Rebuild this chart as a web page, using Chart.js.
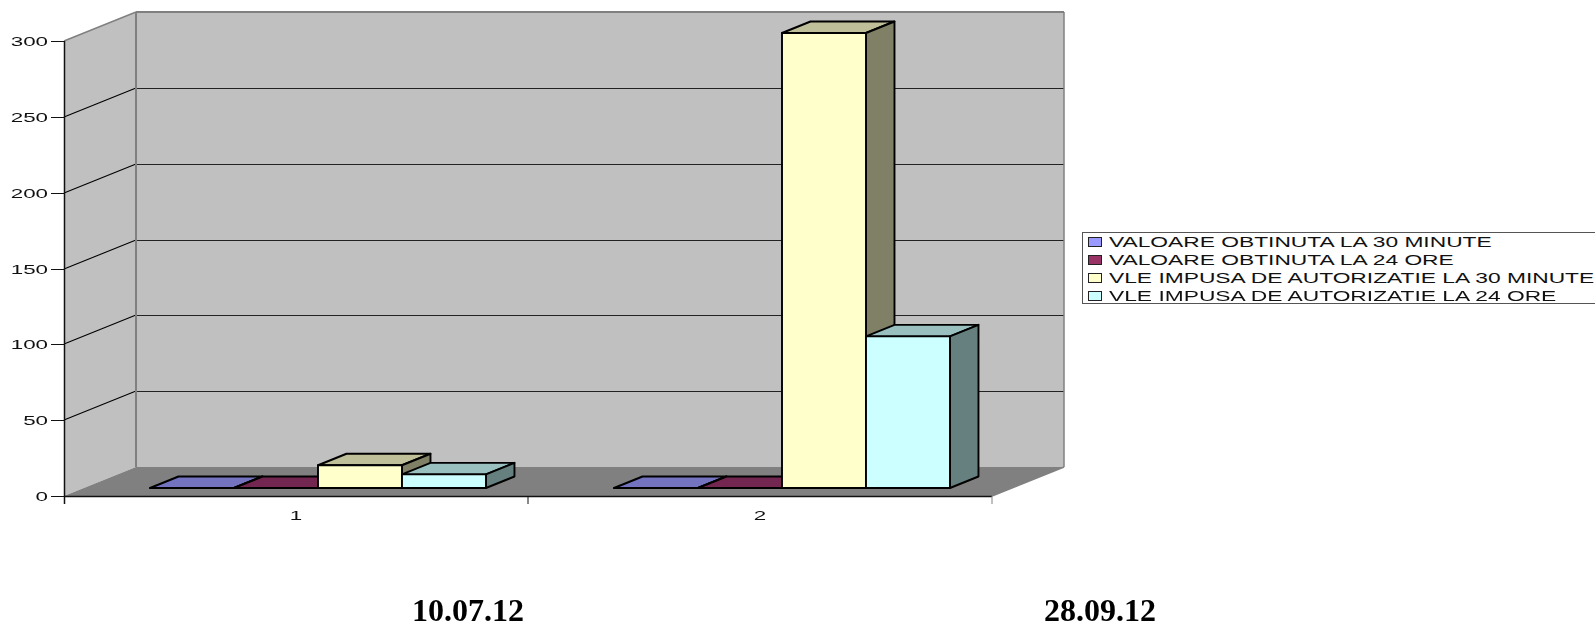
<!DOCTYPE html>
<html>
<head>
<meta charset="utf-8">
<title>VLE</title>
<style>
  html, body { margin: 0; padding: 0; background: #fff; overflow: hidden; }
  #wrap { position: relative; width: 1595px; height: 626px; overflow: hidden; }
  #chart { position: absolute; left: 0; top: 0; }
  #legend {
    position: absolute; left: 1082px; top: 232px; width: 530px; height: 72px;
    border: 1.5px solid #555; box-sizing: border-box; background: #fff;
  }
  .row { position: absolute; left: 5px; height: 18px; }
  .swatch {
    position: absolute; left: 0; top: 4px; width: 12px; height: 8px;
    border: 1.5px solid #222; box-sizing: content-box;
  }
  .row span.txt {
    position: absolute; left: 21px; top: 0; line-height: 18px; white-space: nowrap; color: #111;
    font: 14px/18px "Liberation Sans", Arial, sans-serif;
    transform: scaleX(1.627); transform-origin: left center;
  }
  .date {
    position: absolute; top: 592px; transform: translateX(-50%); white-space: nowrap; color: #000;
    font: bold 32px/36px "Liberation Serif", "Times New Roman", serif;
  }
</style>
</head>
<body>
<div id="wrap">
  <canvas id="chart" width="1595" height="626"></canvas>
  <div id="legend"></div>
</div>
<script src="https://cdn.jsdelivr.net/npm/chart.js@4/dist/chart.umd.min.js"></script>
<script>
const categories = ["1", "2"];
const dateLabels = ["10.07.12", "28.09.12"];
const yTicks = [0, 50, 100, 150, 200, 250, 300];

const obtinuta30 = [0, 0];
const obtinuta24 = [0, 0];
const vle30 = [15, 300];
const vle24 = [9, 100];

const seriesNames = [
  "VALOARE OBTINUTA LA 30 MINUTE",
  "VALOARE OBTINUTA LA 24 ORE",
  "VLE IMPUSA DE AUTORIZATIE LA 30 MINUTE",
  "VLE IMPUSA DE AUTORIZATIE LA 24 ORE"
];
const seriesValues = [obtinuta30, obtinuta24, vle30, vle24];
const frontColors = ["#9999ff", "#993366", "#ffffcc", "#ccffff"];
const topColors = ["#7373bf", "#732650", "#bfbf99", "#99bfbf"];
const sideColors = ["#4d4d80", "#4d1a33", "#808066", "#668080"];

// oblique projection offsets
const wallDx = 72, wallDy = 29;   // front edge of floor -> back wall
const barDx = 22, barDy = 8;      // front edge of floor -> bar front
const boxDx = 28.5, boxDy = 11.5; // bar front -> bar back
const tickStretch = 1.72;

function poly(ctx, pts, fill, stroke, width) {
  ctx.beginPath();
  pts.forEach((p, i) => (i ? ctx.lineTo(p[0], p[1]) : ctx.moveTo(p[0], p[1])));
  ctx.closePath();
  if (fill) { ctx.fillStyle = fill; ctx.fill(); }
  if (stroke) { ctx.strokeStyle = stroke; ctx.lineWidth = width; ctx.stroke(); }
}

function line(ctx, x1, y1, x2, y2, color, width) {
  ctx.beginPath();
  ctx.moveTo(x1, y1);
  ctx.lineTo(x2, y2);
  ctx.strokeStyle = color;
  ctx.lineWidth = width;
  ctx.stroke();
}

function stretchedText(ctx, text, x, y, align) {
  ctx.save();
  ctx.translate(x, y);
  ctx.scale(tickStretch, 1);
  ctx.font = '13px "Liberation Sans", Arial, sans-serif';
  ctx.fillStyle = "#111";
  ctx.textAlign = align;
  ctx.textBaseline = "middle";
  ctx.fillText(text, 0, 0);
  ctx.restore();
}

// walls, floor, grid and axis labels behind the bars
const walls = {
  id: "walls",
  beforeDatasetsDraw(chart) {
    const ctx = chart.ctx;
    const { left, right, top, bottom } = chart.chartArea;
    const x = chart.scales.x, y = chart.scales.y;

    poly(ctx, [[left, top], [left + wallDx, top - wallDy], [left + wallDx, bottom - wallDy], [left, bottom]], "#c0c0c0");
    poly(ctx, [[left + wallDx, top - wallDy], [right + wallDx, top - wallDy], [right + wallDx, bottom - wallDy], [left + wallDx, bottom - wallDy]], "#c0c0c0");
    poly(ctx, [[left, bottom], [left + wallDx, bottom - wallDy], [right + wallDx, bottom - wallDy], [right, bottom]], "#808080");

    yTicks.forEach(v => {
      const py = Math.round(y.getPixelForValue(v));
      if (v > 0 && v < yTicks[yTicks.length - 1]) {
        line(ctx, left, py, left + wallDx, py - wallDy, "#000", 1.1);
        line(ctx, left + wallDx, py - wallDy + 0.5, right + wallDx, py - wallDy + 0.5, "#222", 1.1);
      }
      line(ctx, left - 13, py + 0.5, left, py + 0.5, "#111", 1);
      stretchedText(ctx, String(v), left - 16, py + 1, "right");
    });

    // wall edges
    line(ctx, left, top, left + wallDx, top - wallDy, "#808080", 1.5);
    line(ctx, left + wallDx, top - wallDy, right + wallDx, top - wallDy, "#808080", 2);
    line(ctx, left + wallDx, top - wallDy, left + wallDx, bottom - wallDy, "#808080", 2);
    line(ctx, right + wallDx, top - wallDy, right + wallDx, bottom - wallDy, "#808080", 1.5);
    line(ctx, right, bottom, right + wallDx, bottom - wallDy, "#808080", 1.5);

    // axes
    line(ctx, left + 0.5, top, left + 0.5, bottom + 8, "#111", 1.5);
    line(ctx, left, bottom + 0.5, right, bottom + 0.5, "#111", 1.5);
    [left + (right - left) / 2, right].forEach(px => line(ctx, px, bottom, px, bottom + 8, px === right ? "#808080" : "#111", 1));
    categories.forEach((c, i) => stretchedText(ctx, c, x.getPixelForTick(i), bottom + 20, "center"));
  }
};

// Boxes go left to right so each one overlaps the previous. Top and side faces
// are added here, the front face is the library's bar element.
const boxes = {
  id: "boxes",
  beforeDatasetDraw() {
    return false;
  },
  afterDatasetsDraw(chart) {
    const ctx = chart.ctx;
    ctx.save();
    ctx.translate(barDx, -barDy);
    ctx.lineJoin = "round";
    seriesNames.forEach((name, i) => {
      const meta = chart.getDatasetMeta(i);
      meta.data.forEach(bar => {
        const p = bar.getProps(["x", "y", "base", "width"], true);
        const l = p.x - p.width / 2, r = p.x + p.width / 2;
        poly(ctx, [[l, p.y], [l + boxDx, p.y - boxDy], [r + boxDx, p.y - boxDy], [r, p.y]], topColors[i], "#000", 1.9);
        poly(ctx, [[r, p.y], [r + boxDx, p.y - boxDy], [r + boxDx, p.base - boxDy], [r, p.base]], sideColors[i], "#000", 1.9);
      });
      meta.controller.draw();
      meta.data.forEach(bar => {
        const p = bar.getProps(["x", "y", "base", "width"], true);
        ctx.strokeStyle = "#000";
        ctx.lineWidth = 1.9;
        ctx.strokeRect(p.x - p.width / 2, p.y, p.width, p.base - p.y);
      });
    });
    ctx.restore();
  }
};

new Chart(document.getElementById("chart"), {
  type: "bar",
  data: {
    labels: categories,
    datasets: seriesNames.map((name, i) => ({
      label: name,
      data: seriesValues[i],
      backgroundColor: frontColors[i],
      borderWidth: 0,
      barPercentage: 1,
      categoryPercentage: 0.724
    }))
  },
  options: {
    responsive: false,
    animation: false,
    layout: { padding: { left: 64, right: 603, top: 41, bottom: 130 } },
    plugins: { legend: { display: false }, tooltip: { enabled: false } },
    scales: {
      x: { display: false },
      y: { display: false, min: 0, max: 300, ticks: { stepSize: 50 } }
    }
  },
  plugins: [walls, boxes]
});

// legend and date captions as page text
const legend = document.getElementById("legend");
seriesNames.forEach((name, i) => {
  const row = document.createElement("div");
  row.className = "row";
  row.style.top = (i * 18) + "px";
  row.innerHTML = '<div class="swatch" style="background:' + frontColors[i] + '"></div><span class="txt">' + name + "</span>";
  legend.appendChild(row);
});

const wrap = document.getElementById("wrap");
[468, 1100].forEach((cx, i) => {
  const d = document.createElement("div");
  d.className = "date";
  d.style.left = cx + "px";
  d.textContent = dateLabels[i];
  wrap.appendChild(d);
});
</script>
</body>
</html>
